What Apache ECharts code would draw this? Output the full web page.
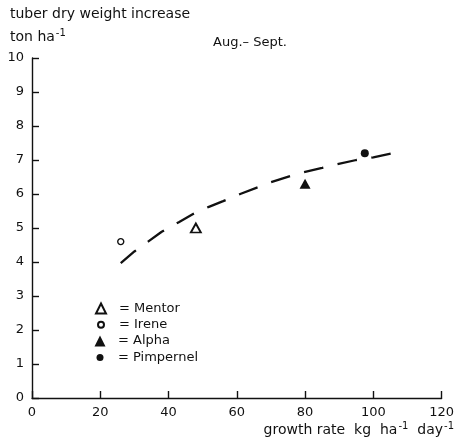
<!DOCTYPE html>
<html>
<head>
<meta charset="utf-8">
<script src="https://cdn.jsdelivr.net/npm/echarts@6/dist/echarts.min.js"></script>
<style>
  html, body { margin: 0; padding: 0; background: #fff; }
  #chart { width: 457px; height: 441px; }
</style>
</head>
<body>
<div id="chart"></div>
<script>
// Tuber dry weight increase vs. growth rate, Aug.–Sept., four potato cultivars
var cultivars = ['Mentor', 'Irene', 'Alpha', 'Pimpernel'];
var growthRate = [48, 26, 80, 97.5];          // kg ha-1 day-1
var dryWeightIncrease = [5.0, 4.6, 6.3, 7.2]; // ton ha-1

// Fitted response curve (dashed)
var curveX = [26, 30, 34, 38, 43, 47.5, 52, 56, 61, 67, 70, 76, 79.5, 85, 89, 95, 100, 105.5];
var curveY = [3.97, 4.31, 4.6, 4.89, 5.17, 5.43, 5.63, 5.79, 6.0, 6.23, 6.35, 6.54, 6.64, 6.77, 6.87, 7.0, 7.08, 7.2];

var xTicks = [0, 20, 40, 60, 80, 100, 120];
var yTicks = [0, 1, 2, 3, 4, 5, 6, 7, 8, 9, 10];

var ink = '#111';
var font = 'DejaVu Sans';

var markerStyles = {
  'Mentor':    { symbol: 'triangle', size: [10, 9],  fill: '#fff', border: 1.8, legend: 10 },
  'Irene':     { symbol: 'circle',   size: 6,        fill: '#fff', border: 1.4, legend: 6 },
  'Alpha':     { symbol: 'triangle', size: [11, 10], fill: ink,    border: 0,   legend: 11 },
  'Pimpernel': { symbol: 'circle',   size: 8,        fill: ink,    border: 0,   legend: 7 }
};

var series = cultivars.map(function (name, i) {
  var m = markerStyles[name];
  return {
    name: name,
    type: 'scatter',
    symbol: m.symbol,
    symbolSize: m.size,
    data: [[growthRate[i], dryWeightIncrease[i]]],
    itemStyle: { color: m.fill, borderColor: ink, borderWidth: m.border, opacity: 1 },
    z: 5
  };
});

series.unshift({
  name: 'curve',
  type: 'line',
  smooth: false,
  showSymbol: false,
  symbol: 'none',
  data: curveX.map(function (x, i) { return [x, curveY[i]]; }),
  lineStyle: { color: ink, width: 2.3, type: [19.8, 14.6], cap: 'butt' },
  silent: true,
  z: 3
});

// one legend block per cultivar so each key symbol keeps its own size
var legends = cultivars.map(function (name, i) {
  var s = markerStyles[name].legend;
  return {
    data: [name],
    orient: 'vertical',
    left: 100 - s / 2,
    top: 310 + i * 16.3 - 8,
    padding: 0,
    itemGap: 0,
    itemWidth: s, itemHeight: s,
    formatter: function (n) { return '= ' + n; },
    textStyle: { color: ink, fontSize: 13, fontFamily: font, padding: [0, 0, 0, 13 - s / 2] },
    selectedMode: false
  };
});

var chart = echarts.init(document.getElementById('chart'), null, { renderer: 'canvas' });
chart.setOption({
  backgroundColor: '#fff',
  animation: false,
  textStyle: { fontFamily: font, color: ink },
  grid: { left: 32, right: 15, top: 58, bottom: 43 },
  xAxis: {
    type: 'value',
    min: xTicks[0], max: xTicks[xTicks.length - 1], interval: 20,
    axisLine: { show: true, lineStyle: { color: ink, width: 1.4 } },
    axisTick: { show: true, inside: true, length: 7, lineStyle: { color: ink, width: 1.4 } },
    axisLabel: { color: ink, fontSize: 13, fontFamily: font, margin: 8,
      formatter: function (v) { return xTicks.indexOf(v) >= 0 ? String(v) : ''; } },
    splitLine: { show: false }
  },
  yAxis: {
    type: 'value',
    min: yTicks[0], max: yTicks[yTicks.length - 1], interval: 1,
    axisLine: { show: true, lineStyle: { color: ink, width: 1.4 } },
    axisTick: { show: true, inside: true, length: 7, lineStyle: { color: ink, width: 1.4 } },
    axisLabel: { color: ink, fontSize: 13, fontFamily: font, margin: 8,
      formatter: function (v) { return yTicks.indexOf(v) >= 0 ? String(v) : ''; } },
    splitLine: { show: false }
  },
  legend: legends,
  graphic: [
    {
      type: 'text', left: 10, top: 7,
      style: { text: 'tuber dry weight increase', fill: ink, font: '14px "DejaVu Sans"' }
    },
    {
      type: 'text', left: 10, top: 28,
      style: {
        text: '{b|ton ha}{s|-1}',
        rich: {
          b: { fill: ink, fontSize: 14, fontFamily: font },
          s: { fill: ink, fontSize: 10, fontFamily: font, padding: [0, 0, 8, 1] }
        }
      }
    },
    {
      type: 'text', left: 213, top: 36,
      style: { text: 'Aug.\u2013 Sept.', fill: ink, font: '13px "DejaVu Sans"' }
    },
    {
      type: 'text', right: 3, top: 421,
      style: {
        text: '{b|growth rate  kg  ha}{s|-1}{b|  day}{s|-1}',
        rich: {
          b: { fill: ink, fontSize: 14, fontFamily: font },
          s: { fill: ink, fontSize: 10, fontFamily: font, padding: [0, 0, 8, 1] }
        }
      }
    }
  ],
  series: series
});
</script>
</body>
</html>
